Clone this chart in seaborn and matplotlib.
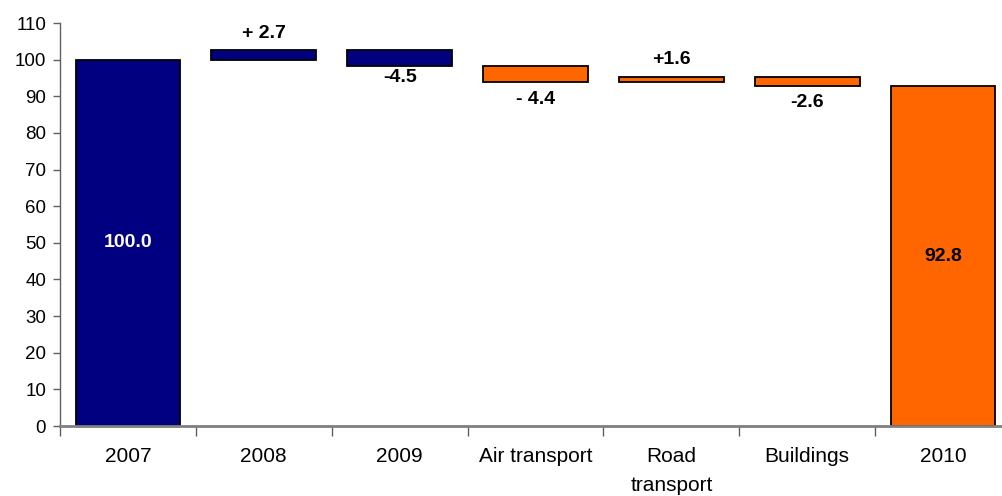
import numpy as np
import pandas as pd
import matplotlib
matplotlib.use("Agg")
import matplotlib.pyplot as plt
import seaborn as sns
from matplotlib.ticker import FixedLocator

# Waterfall data: index 2007 = 100
categories = ["2007", "2008", "2009", "Air transport", "Road\ntransport", "Buildings", "2010"]
changes = [100.0, 2.7, -4.5, -4.4, 1.6, -2.6, None]
labels = ["100.0", "+ 2.7", "-4.5", "- 4.4", "+1.6", "-2.6", "92.8"]
groups = ["years", "years", "years", "sectors", "sectors", "sectors", "sectors"]

NAVY = "#000080"
ORANGE = "#FF6600"
group_colors = {"years": NAVY, "sectors": ORANGE}

# Build bottoms/heights of each floating bar
bottoms, heights, tops = [], [], []
level = 0.0
for i, c in enumerate(changes):
    if i == 0:
        bottoms.append(0.0)
        heights.append(c)
        level = c
    elif c is None:
        bottoms.append(0.0)
        heights.append(level)
    else:
        new = level + c
        bottoms.append(min(level, new))
        heights.append(abs(c))
        level = new
    tops.append(bottoms[-1] + heights[-1])

df = pd.DataFrame({"category": categories, "height": heights,
                   "bottom": bottoms, "group": groups, "delta": changes})

sns.set_style("white")
plt.rcParams["font.family"] = ["Liberation Sans", "DejaVu Sans"]
plt.rcParams["text.color"] = "black"
plt.rcParams["xtick.color"] = "black"
plt.rcParams["ytick.color"] = "black"

fig = plt.figure(figsize=(10.03, 4.96), dpi=100)
ax = fig.add_axes([0.0598, 0.1411, 0.9482, 0.8125])

for grp, color in group_colors.items():
    sub = df[df["group"] == grp]
    sns.barplot(data=sub, x="category", y="height", order=categories,
                color=color, width=0.77, errorbar=None, ax=ax,
                bottom=sub["bottom"].to_numpy(), edgecolor="black",
                linewidth=1.3, saturation=1)

ax.set_xlim(-0.5, 6.5)
ax.set_ylim(0, 110)
ax.set_yticks(np.arange(0, 111, 10))
ax.set_xlabel("")
ax.set_ylabel("")

# Value labels
LBL = dict(fontsize=14, fontweight="bold", ha="center", va="center")
for i, (lab, d) in enumerate(zip(labels, changes)):
    if i == 0:
        ax.text(i, tops[i] / 2, lab, color="white", **LBL)
    elif d is None:
        ax.text(i, tops[i] / 2, lab, color="black", **LBL)
    elif d > 0:
        ax.annotate(lab, (i, tops[i]), xytext=(0, 12), textcoords="offset points",
                    color="black", **LBL)
    else:
        off = -8 if i == 2 else -12
        ax.annotate(lab, (i, bottoms[i]), xytext=(0, off), textcoords="offset points",
                    color="black", **LBL)

# Axes styling
for side in ["top", "right"]:
    ax.spines[side].set_visible(False)
ax.spines["left"].set_color("#606060")
ax.spines["left"].set_linewidth(1.0)
ax.spines["bottom"].set_color("#808080")
ax.spines["bottom"].set_linewidth(2.0)

ax.tick_params(axis="y", which="major", length=5, width=1, color="#606060",
               labelsize=13.5, pad=5, left=True)
ax.xaxis.set_minor_locator(FixedLocator(np.arange(-0.5, 7.0, 1.0)))
ax.tick_params(axis="x", which="major", length=0, labelsize=15, pad=15)
ax.tick_params(axis="x", which="minor", length=7, width=1, color="#606060", bottom=True)
for t in ax.get_xticklabels():
    t.set_linespacing(1.65)
    t.set_va("top")

fig.savefig("out.png", dpi=100)
